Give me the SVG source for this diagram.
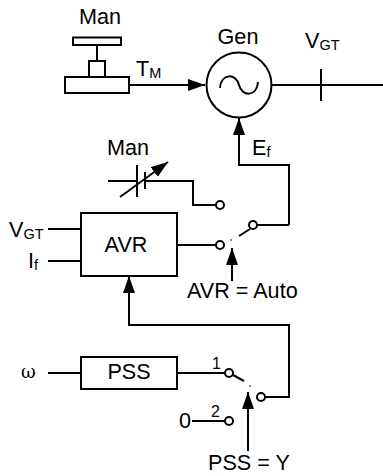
<svg xmlns="http://www.w3.org/2000/svg" width="383" height="476" viewBox="0 0 383 476">
<style>
text{font-family:"Liberation Sans",Arial,sans-serif;font-size:21.6px;fill:#000}
.s{font-size:14.5px}
.b{font-size:16px}
.w{font-family:"DejaVu Serif","Liberation Serif",serif;font-size:18px}
.m{text-anchor:middle}
.l,rect,circle{fill:none;stroke:#000;stroke-width:2}
rect,circle{fill:#fff}
.t{fill:#000;stroke:none}
</style>
<defs>
<marker id="a" markerUnits="userSpaceOnUse" markerWidth="18" markerHeight="12" refX="17" refY="6" orient="auto"><path class="t" d="M0 0L17 6L0 12Z"/></marker>
<marker id="d" markerUnits="userSpaceOnUse" markerWidth="18" markerHeight="14" refX="17" refY="7" orient="auto"><path class="t" d="M0 1L17 7L0 13Z"/></marker>
</defs>
<g id="connectors">
<path class="l" marker-end="url(#a)" d="M129 85H205"/>
<path class="l" d="M272 85H383M321 69V101"/>
<path class="l" marker-end="url(#d)" d="M289 225V165H239V118"/>
<path class="l" d="M289 225H257"/>
<path class="l" d="M239 236L250 229"/>
<path class="l" d="M145 181H193V205H216"/>
<path class="l" d="M177 245H216"/>
<path class="l" marker-end="url(#d)" d="M232 281V248"/>
<path class="l" d="M48 229H81M48 261H81"/>
<path class="l" marker-end="url(#d)" d="M265 397H289V325H129V276"/>
<path class="l" d="M48 373H81M177 373H225"/>
<path class="l" d="M233 375L244 381"/>
<path class="l" marker-end="url(#d)" d="M248 451V392"/>
<path class="l" d="M192 421H225"/>
<circle class="t" cx="231" cy="240" r="0.8"/>
<circle class="t" cx="250" cy="386" r="0.8"/>
</g>
<g id="man-turbine">
<text x="100" y="24" class="m">Man</text>
<rect x="73" y="37.5" width="48" height="7.5"/>
<path class="l" d="M97 45V61"/>
<rect x="89" y="61" width="16" height="16"/>
<rect x="65" y="77" width="64" height="16"/>
<text x="136" y="76">T<tspan class="s" dy="1.5">M</tspan></text>
</g>
<g id="gen">
<text x="238" y="44" class="m">Gen</text>
<circle cx="239" cy="85" r="32.5"/>
<path class="l" d="M220 88C221 73 236 73 239 85C242 97 257 97 258 82"/>
</g>
<g id="vgt-bus"><text x="305" y="48">V<tspan class="s" dy="1.5">GT</tspan></text></g>
<g id="ef"><text x="252" y="155">E<tspan class="s" dy="1.5">f</tspan></text></g>
<g id="man-setpoint">
<text x="128" y="155" class="m">Man</text>
<path class="l" d="M108 181H137M137 165V197M145 172V189"/>
<path class="l" marker-end="url(#a)" d="M120 197L168 162"/>
</g>
<g id="avr">
<rect x="81" y="213" width="96" height="63"/>
<text x="126" y="252" class="m">AVR</text>
<text x="9" y="237">V<tspan class="s" dy="1.5">GT</tspan></text>
<text x="28" y="268">I<tspan class="s" dy="1.5">f</tspan></text>
</g>
<g id="avr-switch">
<circle cx="220" cy="205" r="4"/>
<circle cx="220" cy="245" r="4"/>
<circle cx="253" cy="225" r="4"/>
<text x="187" y="298">AVR = Auto</text>
</g>
<g id="pss">
<rect x="81" y="357" width="96" height="32"/>
<text x="129" y="379" class="m">PSS</text>
<text x="21" y="378" class="w">ω</text>
</g>
<g id="pss-switch">
<circle cx="229" cy="373" r="4"/>
<circle cx="229" cy="421" r="4"/>
<circle cx="261" cy="397" r="4"/>
<text x="212" y="369" class="b">1</text>
<text x="211" y="417" class="b">2</text>
<text x="179" y="428">0</text>
<text x="208" y="470">PSS = Y</text>
</g>
</svg>
